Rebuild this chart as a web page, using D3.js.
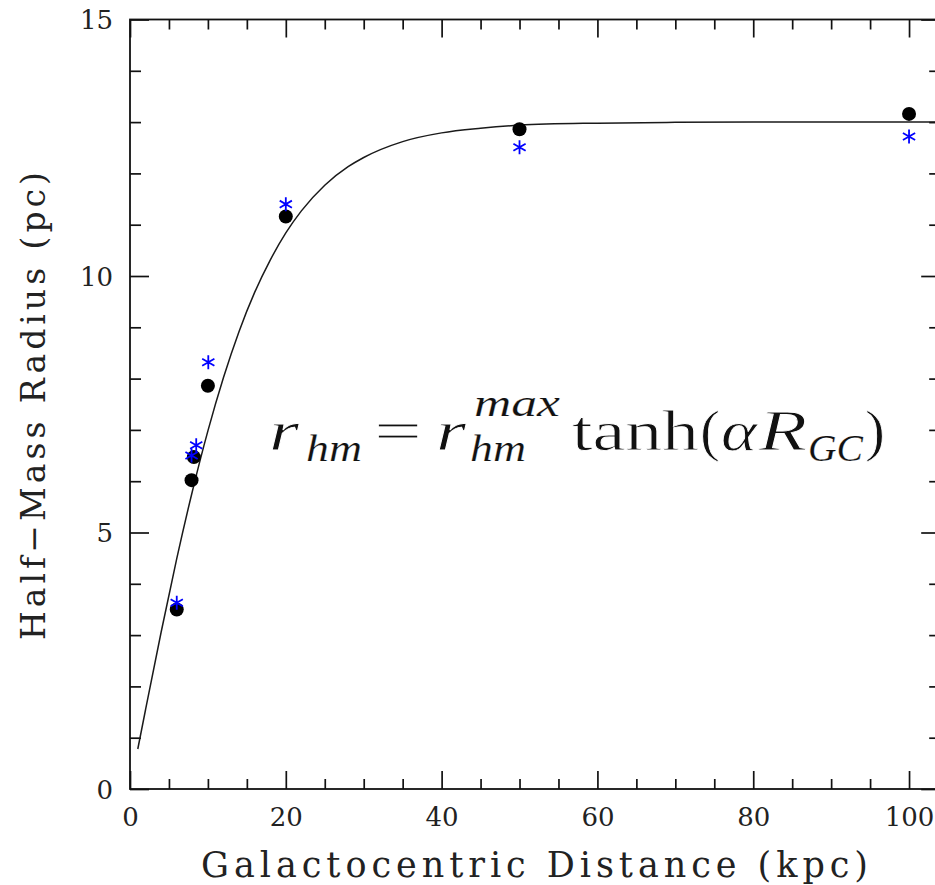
<!DOCTYPE html>
<html><head><meta charset="utf-8">
<script src="https://cdn.jsdelivr.net/npm/d3@7"></script>
<style>body{margin:0;background:#fff}</style>
</head><body>
<svg id="chart" width="935" height="885"></svg>
<script>
// ---- data ----
const blackR   = [6, 7.9, 8.2, 10, 20, 50, 100];
const blackRhm = [3.50, 6.02, 6.47, 7.86, 11.16, 12.86, 13.16];
const blueR    = [6, 7.9, 8.5, 10.05, 20, 50, 100];
const blueRhm  = [3.63, 6.50, 6.70, 8.32, 11.40, 12.51, 12.72];
// fitted curve
const curveR   = [1, 2, 4, 6, 8, 10, 12, 14, 16, 18, 20, 22, 25, 28, 30, 35, 40, 45, 50, 60, 70, 80, 90, 104];
const curveRhm = [0.78, 1.55, 3.06, 4.49, 5.80, 6.98, 8.02, 8.92, 9.68, 10.31, 10.84, 11.27, 11.77, 12.13, 12.31, 12.62, 12.79, 12.88, 12.94, 12.98, 12.995, 13.0, 13.0, 13.0];
const xMajorTicks = [0, 20, 40, 60, 80, 100];
const xMinorTicks = [5,10,15,25,30,35,45,50,55,65,70,75,85,90,95];
const yMajorTicks = [0, 5, 10, 15];
const yMinorTicks = [1,2,3,4,6,7,8,9,11,12,13,14];
const xTitle = "Galactocentric Distance (kpc)";
const yTitle = "Half\u2212Mass Radius (pc)";

const svg = d3.select("#chart");
const x = d3.scaleLinear().domain([0, 104]).range([130, 940.2]);
const y = d3.scaleLinear().domain([0, 15]).range([789, 19.5]);
const ink = "#111";
const tickFont = "DejaVu Serif";

function styleAxis(g) {
  g.select(".domain").remove();
  g.selectAll(".tick line").attr("stroke", ink).attr("stroke-width", 1.7);
  g.selectAll(".tick text").attr("font-family", tickFont).attr("font-size", 26).attr("fill", "#222");
}

// bottom
svg.append("g").attr("transform", `translate(0,${y(0)})`)
  .call(d3.axisBottom(x).tickValues(xMajorTicks).tickSizeInner(-18).tickSizeOuter(0).tickPadding(18.5).tickFormat(d3.format("d")))
  .call(styleAxis);
svg.append("g").attr("transform", `translate(0,${y(0)})`)
  .call(d3.axisBottom(x).tickValues(xMinorTicks).tickSizeInner(-10).tickSizeOuter(0).tickFormat(""))
  .call(styleAxis);
// top
svg.append("g").attr("transform", `translate(0,${y(15)})`)
  .call(d3.axisTop(x).tickValues(xMajorTicks).tickSizeInner(-18).tickSizeOuter(0).tickFormat(""))
  .call(styleAxis);
svg.append("g").attr("transform", `translate(0,${y(15)})`)
  .call(d3.axisTop(x).tickValues(xMinorTicks).tickSizeInner(-10).tickSizeOuter(0).tickFormat(""))
  .call(styleAxis);
// left
svg.append("g").attr("transform", `translate(${x(0)},0)`)
  .call(d3.axisLeft(y).tickValues(yMajorTicks).tickSizeInner(-19).tickSizeOuter(0).tickPadding(17).tickFormat(d3.format("d")))
  .call(styleAxis)
  .call(g => g.selectAll(".tick text").attr("dy", "0.36em"));
svg.append("g").attr("transform", `translate(${x(0)},0)`)
  .call(d3.axisLeft(y).tickValues(yMinorTicks).tickSizeInner(-11).tickSizeOuter(0).tickFormat(""))
  .call(styleAxis);
// right
svg.append("g").attr("transform", `translate(${x(104)},0)`)
  .call(d3.axisRight(y).tickValues(yMajorTicks).tickSizeInner(-19).tickSizeOuter(0).tickFormat(""))
  .call(styleAxis);
svg.append("g").attr("transform", `translate(${x(104)},0)`)
  .call(d3.axisRight(y).tickValues(yMinorTicks).tickSizeInner(-11).tickSizeOuter(0).tickFormat(""))
  .call(styleAxis);

// frame
svg.append("rect")
  .attr("x", x(0)).attr("y", y(15))
  .attr("width", x(104) - x(0)).attr("height", y(0) - y(15))
  .attr("fill", "none").attr("stroke", ink).attr("stroke-width", 1.8);

// curve
const curvePts = curveR.map((r, i) => [r, curveRhm[i]]);
svg.append("path").datum(curvePts)
  .attr("fill", "none").attr("stroke", "#1a1a1a").attr("stroke-width", 1.5)
  .attr("d", d3.line().x(d => x(d[0])).y(d => y(d[1])).curve(d3.curveMonotoneX));

// black dots
svg.append("g").selectAll("circle")
  .data(blackR.map((r, i) => [r, blackRhm[i]]))
  .join("circle")
  .attr("cx", d => x(d[0])).attr("cy", d => y(d[1])).attr("r", 7)
  .attr("fill", "#000");

// blue asterisks
const star = d3.symbol().type(d3.symbolAsterisk).size(140);
svg.append("g").selectAll("path")
  .data(blueR.map((r, i) => [r, blueRhm[i]]))
  .join("path")
  .attr("transform", d => `translate(${x(d[0])},${y(d[1])})`)
  .attr("d", star)
  .attr("fill", "none").attr("stroke", "#0000ff").attr("stroke-width", 1.8);

// axis titles
svg.append("text")
  .attr("x", 201).attr("y", 877)
  .attr("font-family", "DejaVu Serif").attr("font-size", 35).attr("fill", "#222")
  .attr("textLength", 667).attr("lengthAdjust", "spacing")
  .text(xTitle);
svg.append("text")
  .attr("transform", "translate(45,640) rotate(-90)")
  .attr("font-family", "DejaVu Serif").attr("font-size", 33).attr("fill", "#222")
  .attr("textLength", 468).attr("lengthAdjust", "spacing")
  .text(yTitle);

// formula r_hm = r_hm^max tanh(alpha R_GC)
const base = 450;
const fm = "Liberation Serif";
const pieces = [
  {t: "r",    x: 269, w: 30,  dy: 0,   fs: 58, it: true},
  {t: "hm",   x: 306, w: 56,  dy: 11,  fs: 38, it: true},
  {t: "=",    x: 374, w: 48,  dy: 0,   fs: 58, it: false},
  {t: "r",    x: 436, w: 30,  dy: 0,   fs: 58, it: true},
  {t: "max",  x: 474, w: 86,  dy: -34, fs: 38, it: true},
  {t: "hm",   x: 470, w: 56,  dy: 11,  fs: 38, it: true},
  {t: "tanh", x: 572, w: 127, dy: 0,   fs: 58, it: false},
  {t: "(",    x: 700, w: 20,  dy: 0,   fs: 58, it: false},
  {t: "\u03B1", x: 721, w: 36, dy: 0,  fs: 58, it: true},
  {t: "R",    x: 759, w: 48,  dy: 0,   fs: 58, it: true},
  {t: "GC",   x: 808, w: 55,  dy: 11,  fs: 38, it: true},
  {t: ")",    x: 865, w: 20,  dy: 0,   fs: 58, it: false}
];
svg.append("g").selectAll("text").data(pieces).join("text")
  .attr("x", d => d.x).attr("y", d => base + d.dy)
  .attr("font-family", fm).attr("font-size", d => d.fs)
  .attr("font-style", d => d.it ? "italic" : "normal")
  .attr("fill", "#111")
  .attr("stroke", "#fff").attr("stroke-width", d => d.fs > 50 ? 0.8 : 0.2)
  .attr("textLength", d => d.w).attr("lengthAdjust", "spacingAndGlyphs")
  .text(d => d.t);
</script>
</body></html>
